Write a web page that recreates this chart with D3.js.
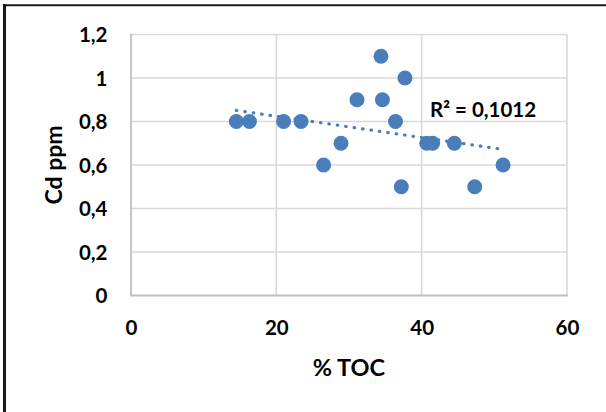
<!DOCTYPE html>
<html>
<head>
<meta charset="utf-8">
<script src="https://cdn.jsdelivr.net/npm/d3@7"></script>
<style>
  html, body { margin: 0; padding: 0; background: #fff; }
  svg text { font-family: Lato, "Open Sans", sans-serif; font-weight: bold; fill: #000; }
</style>
</head>
<body>
<svg id="chart" width="606" height="412"></svg>
<script>
// Data
const toc = [14.5, 16.3, 21.0, 23.4, 26.5, 28.9, 31.1, 34.4, 34.6, 36.4, 37.2, 37.7, 40.7, 41.5, 44.5, 47.3, 51.2];
const cd  = [0.8,  0.8,  0.8,  0.8,  0.6,  0.7,  0.9,  1.1,  0.9,  0.8,  0.5,  1.0,  0.7,  0.7,  0.7,  0.5,  0.6];
const xTicks = [0, 20, 40, 60];
const yTicks = [0, 0.2, 0.4, 0.6, 0.8, 1.0, 1.2];
const xTitle = "% TOC";
const yTitle = "Cd ppm";
const r2Label = "R² = 0,1012";

const svg = d3.select("#chart");
const W = 606, H = 412;
const margin = { left: 131, right: W - 567, top: 34.5, bottom: H - 295.5 };

const x = d3.scaleLinear().domain([0, 60]).range([margin.left, W - margin.right]);
const y = d3.scaleLinear().domain([0, 1.2]).range([H - margin.bottom, margin.top]);

const fmt = v => d3.format("~g")(+v.toFixed(1)).replace(".", ",");

svg.append("rect").attr("width", W).attr("height", H).attr("fill", "#fff");

// outer chart border (partially off-canvas)
svg.append("line").attr("x1", 4.5).attr("x2", 4.5).attr("y1", 4).attr("y2", H + 5)
  .attr("stroke", "#1a1a1a").attr("stroke-width", 3);
svg.append("line").attr("x1", 3).attr("x2", W + 5).attr("y1", 5.2).attr("y2", 5.2)
  .attr("stroke", "#1a1a1a").attr("stroke-width", 2);

// gridlines
const grid = svg.append("g");
grid.selectAll("line.h").data(yTicks.filter(d => d > 0)).join("line")
  .attr("x1", x(0)).attr("x2", x(60))
  .attr("y1", d => y(d)).attr("y2", d => y(d))
  .attr("stroke", "#d9d9d9").attr("stroke-width", 1.6);
grid.selectAll("line.v").data(xTicks.filter(d => d > 0)).join("line")
  .attr("x1", d => x(d)).attr("x2", d => x(d))
  .attr("y1", y(0)).attr("y2", y(1.2))
  .attr("stroke", "#d9d9d9").attr("stroke-width", 1.6);

// axes lines
svg.append("line").attr("x1", x(0)).attr("x2", x(0)).attr("y1", y(0) + 0.8).attr("y2", y(1.2) - 0.8)
  .attr("stroke", "#bfbfbf").attr("stroke-width", 1.8);
svg.append("line").attr("x1", x(0)).attr("x2", x(60) + 0.8).attr("y1", y(0)).attr("y2", y(0))
  .attr("stroke", "#bfbfbf").attr("stroke-width", 1.8);

// axes via d3 (labels only)
const xAxis = d3.axisBottom(x).tickValues(xTicks).tickSize(0).tickPadding(0).tickFormat(d3.format("d"));
const gx = svg.append("g").attr("transform", `translate(0,${y(0)})`).call(xAxis);
gx.select(".domain").remove();
gx.selectAll("text").attr("dy", null).attr("y", 39.5)
  .style("font-size", "20.5px").style("font-family", "Lato, sans-serif").style("font-weight", "bold");

const yAxis = d3.axisLeft(y).tickValues(yTicks).tickSize(0).tickPadding(0).tickFormat(fmt);
const gy = svg.append("g").attr("transform", `translate(${x(0)},0)`).call(yAxis);
gy.select(".domain").remove();
gy.selectAll("text").attr("x", -23.5).attr("dy", "0.36em")
  .style("font-size", "20.5px").style("font-family", "Lato, sans-serif").style("font-weight", "bold");

// axis titles
svg.append("text").attr("x", 349).attr("y", 376).attr("text-anchor", "middle")
  .style("font-size", "23.5px").text(xTitle);
svg.append("text").attr("transform", `translate(62,${(y(0) + y(1.2)) / 2}) rotate(-90)`)
  .attr("text-anchor", "middle").style("font-size", "23px").text(yTitle);

// linear trendline (least squares)
const mx = d3.mean(toc), my = d3.mean(cd);
let sxy = 0, sxx = 0;
toc.forEach((t, i) => { sxy += (t - mx) * (cd[i] - my); sxx += (t - mx) * (t - mx); });
const slope = sxy / sxx, icpt = my - slope * mx;
const [xmin, xmax] = d3.extent(toc);
const color = "#4a7ebb";

// markers
svg.append("g").selectAll("circle").data(toc.map((t, i) => [t, cd[i]])).join("circle")
  .attr("cx", d => x(d[0])).attr("cy", d => y(d[1])).attr("r", 7.5)
  .attr("fill", color);

svg.append("line")
  .attr("x1", x(xmin)).attr("y1", y(icpt + slope * xmin))
  .attr("x2", x(xmax)).attr("y2", y(icpt + slope * xmax))
  .attr("stroke", color).attr("stroke-width", 3.2)
  .attr("stroke-linecap", "round").attr("stroke-dasharray", "0.5 8");

// R² label
svg.append("text").attr("x", 430).attr("y", 116.5).style("font-size", "20.5px").text(r2Label);
</script>
</body>
</html>
